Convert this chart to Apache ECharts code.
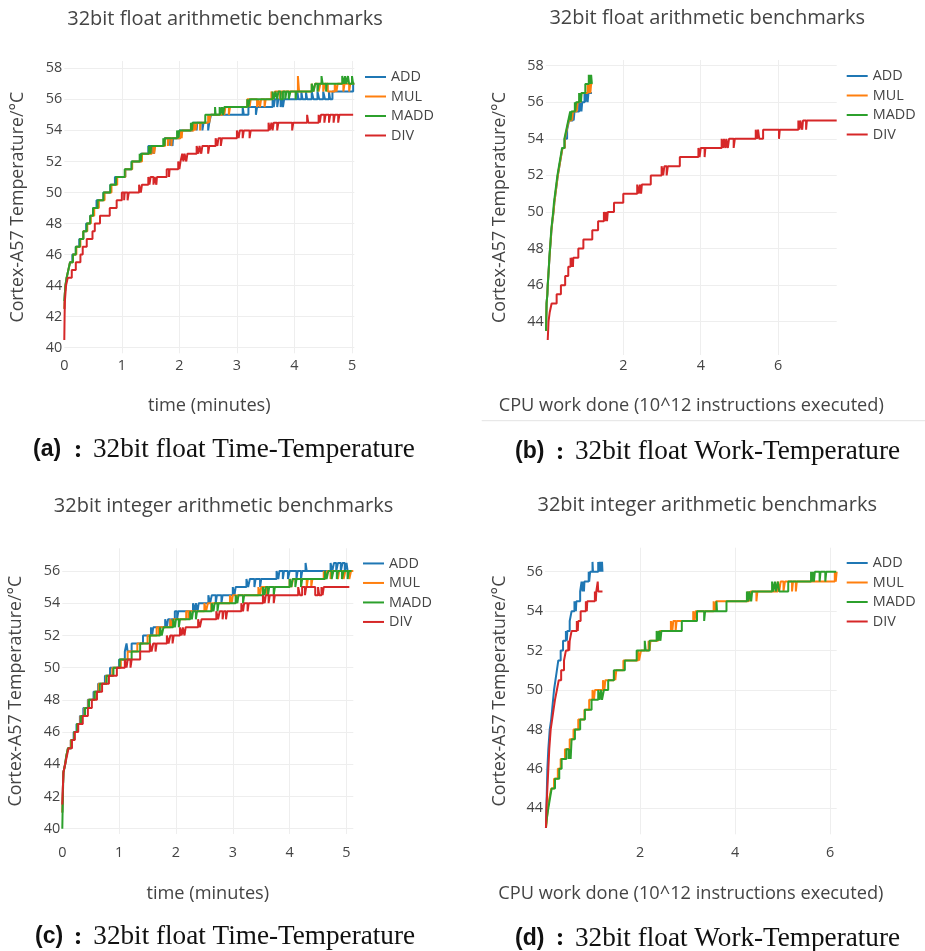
<!DOCTYPE html>
<html>
<head>
<meta charset="utf-8">
<script src="https://cdn.jsdelivr.net/npm/echarts@6/dist/echarts.min.js"></script>
<style>
html,body{margin:0;padding:0;background:#fff;}
#chart{width:925px;height:951px;}
</style>
</head>
<body>
<div id="chart"></div>
<script>
// ---------- data ----------
const seriesNames = ['ADD', 'MUL', 'MADD', 'DIV'];
const seriesColors = ['#1f77b4', '#ff7f0e', '#2ca02c', '#d62728'];

const panelTitles = ['32bit float arithmetic benchmarks', '32bit float arithmetic benchmarks',
                     '32bit integer arithmetic benchmarks', '32bit integer arithmetic benchmarks'];
const xTitles = ['time (minutes)', 'CPU work done (10^12 instructions executed)',
                 'time (minutes)', 'CPU work done (10^12 instructions executed)'];
const yTitle = 'Cortex-A57 Temperature/°C';
const captionTags = ['(a)', '(b)', '(c)', '(d)'];
const captionTexts = ['32bit float Time-Temperature', '32bit float Work-Temperature',
                      '32bit float Time-Temperature', '32bit float Work-Temperature'];

// (a) 32bit float, time (minutes) vs temperature
const floatTimeADD = [[0,42.5],[0.01,43.5],[0.02,44],[0.04,44.5],[0.07,45],[0.1,45.5],[0.14,46],[0.2,46.5],[0.26,47],[0.33,47.5],[0.38,48],[0.45,48.5],[0.5,49],[0.56,49.5],[0.68,50],[0.8,50.5],[0.88,51],[1.06,51.5],[1.17,52],[1.33,52.5],
 [1.46,53],[1.52,52.5],[1.53,53],[1.56,52.5],[1.57,53],[1.74,53.5],[1.84,53],[1.85,53.5],[1.88,53],[1.89,53.5],[2.0,54],[2.23,54.5],[2.3,54],[2.31,54.5],[2.4,54],[2.42,54.5],[2.5,54],[2.52,54.5],
 [2.55,55],[3.1,55.5],[3.12,55],[3.2,55.5],[3.33,55],[3.35,55.5],[3.62,56],[3.64,55.5],[3.66,56],[3.7,55.5],[3.72,56],[3.76,55.5],[3.78,56],[3.8,55.5],[3.82,56],[4.05,56.5],[4.07,56],[4.12,56.5],[4.14,56],[4.2,56.5],[4.22,56],[4.3,56.5],[4.33,56],[4.4,56.5],[4.43,56],[4.5,56.5],[4.53,56],[4.6,56.5],[4.62,56],[4.66,56.5],[5.02,57],[5.04,57]];
const floatTimeMUL = [[0,42.5],[0.01,43.5],[0.02,44],[0.04,44.5],[0.07,45],[0.1,45.5],[0.15,46],[0.21,46.5],[0.28,47],[0.33,47.5],[0.4,48],[0.46,48.5],[0.52,49],[0.6,49.5],[0.7,50],[0.82,50.5],[0.92,51],[1.06,51.5],[1.18,52],[1.35,52.5],[1.52,53],[1.56,52.5],[1.58,53],[1.75,53.5],[1.8,53],[1.82,53.5],[1.86,53],[1.87,53.5],[2.02,54],[2.04,53.5],[2.05,54],[2.25,54.5],[2.28,54],[2.3,54.5],[2.36,54],[2.37,54.5],[2.5,55],[2.52,54.5],[2.54,55],[2.75,55.5],[2.78,55],[2.8,55.5],[2.86,55],[2.88,55.5],[3.18,56],[3.22,55.5],[3.24,56],[3.35,55.5],[3.37,56],[3.4,55.5],[3.42,56],[3.48,55.5],[3.5,56],
 [3.6,56.5],[3.63,56],[3.66,56.5],[3.75,56],[3.77,56.5],[4.06,57.5],[4.08,56.5],[4.3,57],[4.33,56.5],[4.36,57],[4.42,56.5],[4.45,57],[4.5,56.5],[4.53,57],[4.58,56.5],[4.7,57],[4.73,56.5],[4.75,57],[4.85,56.5],[4.87,57],[4.95,56.5],[4.97,57],[5.04,57]];
const floatTimeMADD = [[0,43],[0.01,43.5],[0.02,44],[0.04,44.5],[0.07,45],[0.1,45.5],[0.15,46],[0.2,46.5],[0.27,47],[0.33,47.5],[0.39,48],[0.45,48.5],[0.5,49],[0.58,49.5],[0.68,50],[0.8,50.5],[0.9,51],[1.05,51.5],[1.17,52],[1.31,52.5],[1.33,52],[1.34,52.5],
 [1.47,53],[1.5,52.5],[1.51,53],[1.72,53.5],[1.74,53],[1.75,53.5],[1.96,54],[1.98,53.5],[2.0,54],[2.2,54.5],[2.22,54],[2.23,54.5],[2.45,55],[2.62,55.5],[2.63,55],[2.7,55.5],[2.71,55],[2.74,55.5],[2.76,55],[2.78,55.5],
 [3.18,56],[3.2,55.5],[3.22,56],[3.62,56.5],[3.64,56],[3.67,56.5],[3.7,56],[3.72,56.5],[3.76,56],[3.8,56.5],[3.84,56],[3.86,56.5],[3.9,56],[3.93,56.5],[4.02,56],[4.03,56.5],
 [4.3,57],[4.33,56.5],[4.36,57],[4.4,56.5],[4.42,57],[4.47,57.5],[4.49,57],[4.55,56.5],[4.56,57],[4.83,57.5],[4.86,57],[4.88,57.5],[4.9,57],[4.93,57.5],[4.95,57],[5.0,57.5],[5.02,57],[5.04,57]];
const floatTimeDIV = [[0,40.5],[0.005,42],[0.01,43],[0.03,44],[0.06,44.5],[0.13,45],[0.2,45.5],[0.28,46],[0.32,46.5],[0.39,47],[0.49,47.5],[0.53,48],[0.62,48.5],[0.79,49],[0.91,49.5],[1.0,50],[1.04,49.5],[1.05,50],[1.1,49.5],[1.12,50],
 [1.3,50.5],[1.33,50],[1.35,50.5],[1.46,51],[1.48,50.5],[1.5,51],[1.55,50.5],[1.57,51],[1.6,50.5],[1.61,51],[1.78,51.5],[1.82,51],[1.83,51.5],
 [1.98,52],[2.0,51.5],[2.02,52],[2.05,52.5],[2.07,52],[2.09,52.5],[2.12,52],[2.14,52.5],[2.3,53],[2.33,52.5],[2.35,53],[2.38,52.5],[2.4,53],[2.5,52.5],[2.52,53],
 [2.63,53.5],[2.66,53],[2.68,53.5],[2.72,53],[2.74,53.5],[3.0,54],[3.03,53.5],[3.05,54],[3.1,53.5],[3.12,54],[3.22,53.5],[3.24,54],[3.55,54.5],[3.57,54],[3.6,54.5],[3.62,54],[3.64,54.5],[3.7,54],[3.72,54.5],[3.96,54],[3.98,54.5],
 [4.22,55],[4.24,54.5],[4.42,55],[4.44,54.5],[4.46,55],[4.52,54.5],[4.54,55],[4.6,54.5],[4.62,55],[4.68,54.5],[4.7,55],[4.76,54.5],[4.78,55],[5.02,55]];

// (b) 32bit float, CPU work (10^12 instr.) vs temperature
const floatWorkADD = [[0.005,43.5],[0.01,44],[0.02,45],[0.04,45.5],[0.05,46],[0.065,46.5],[0.08,47],[0.095,47.5],[0.11,48],[0.13,48.5],[0.145,49],[0.17,49.5],[0.2,50],[0.22,50.5],[0.25,51],[0.28,51.5],[0.31,52],[0.35,52.5],[0.39,53],[0.43,53.5],[0.49,54],[0.55,54.5],[0.6,55],[0.7,55.5],[0.72,55],[0.74,55.5],[0.86,56],[0.88,55.5],[0.9,56],[0.92,55.5],[0.94,56],[1.0,56.5],[1.02,56],[1.05,56.5],[1.08,56],[1.1,56.5],[1.19,56.5]];
const floatWorkMUL = [[0.005,43.5],[0.01,44],[0.02,45],[0.04,45.5],[0.05,46],[0.065,46.5],[0.08,47],[0.095,47.5],[0.11,48],[0.13,48.5],[0.145,49],[0.17,49.5],[0.2,50],[0.22,50.5],[0.25,51],[0.28,51.5],[0.31,52],[0.35,52.5],[0.39,53],[0.43,53.5],[0.49,54],[0.54,54.5],[0.59,55],[0.66,55.5],[0.68,55],[0.7,55.5],[0.79,56],[0.8,55.5],[0.82,56],[0.88,56.5],[0.9,56],[0.92,56.5],[1.08,57],[1.1,56.5],[1.12,57],[1.15,56.5],[1.17,57],[1.2,57]];
const floatWorkMADD = [[0.005,43.5],[0.01,44],[0.02,45],[0.04,45.5],[0.05,46],[0.065,46.5],[0.08,47],[0.09,47.5],[0.11,48],[0.125,48.5],[0.14,49],[0.165,49.5],[0.19,50],[0.21,50.5],[0.24,51],[0.27,51.5],[0.3,52],[0.34,52.5],[0.38,53],[0.42,53.5],[0.48,54],[0.53,54.5],[0.58,55],[0.63,55.5],[0.64,55],[0.66,55.5],[0.75,56],[0.76,55.5],[0.78,56],[0.86,56.5],[0.87,56],[0.89,56.5],[0.91,56],[0.92,56.5],[1.02,57],[1.11,57.5],[1.12,57],[1.14,57.5],[1.16,57],[1.17,57.5],[1.19,57]];
const floatWorkDIV = [[0.05,43],[0.07,44],[0.1,44.5],[0.15,45],[0.28,45.5],[0.39,46],[0.5,46.5],[0.58,47],[0.64,47.5],[0.66,47],[0.68,47.5],[0.7,47],[0.71,47.5],[0.84,48],[0.97,48.5],[1.2,49],[1.35,49.5],[1.5,50],[1.53,49.5],[1.55,50],[1.58,49.5],[1.6,50],[1.76,50.5],[2.0,51],[2.36,51.5],[2.4,51],[2.43,51.5],[2.46,51],[2.48,51.5],[2.71,52],[2.99,52.5],[3.03,52],[3.06,52.5],[3.12,52],[3.15,52.5],[3.46,53],[3.94,53.5],[3.97,53],[4.0,53.5],[4.1,53],[4.12,53.5],[4.54,54],[4.58,53.5],[4.6,54],[4.64,53.5],[4.66,54],[4.7,53.5],[4.73,54],[4.85,53.5],[4.88,54],[5.42,54.5],[5.45,54],[5.48,54.5],[5.51,54],[5.61,54.5],[6.02,54],[6.04,54.5],[6.52,55],[6.55,54.5],[6.57,55],[6.62,54.5],[6.64,55],[6.72,54.5],[6.74,55],[7.51,55]];

// (c) 32bit integer, time (minutes) vs temperature
const intTimeADD = [[0,41],[0.01,42.5],[0.02,43.5],[0.05,44],[0.07,44.5],[0.1,45],[0.15,45.5],[0.2,46],[0.25,46.5],[0.31,47],[0.37,47.5],[0.45,48],[0.55,48.5],[0.63,49],[0.75,49.5],[0.84,50],[1.0,50.5],[1.1,51],[1.13,51.5],[1.15,51],[1.22,51.5],[1.42,52],[1.56,52.5],[1.58,52],[1.6,52.5],[1.81,53],[1.84,52.5],[1.86,53],[1.9,52.5],[1.92,53],[1.98,53.5],[2.02,53],[2.04,53.5],[2.3,54],[2.33,53.5],[2.35,54],[2.38,53.5],[2.4,54],[2.57,54.5],[2.6,54],[2.63,54.5],[2.7,54],[2.72,54.5],[2.8,54],[2.82,54.5],[3.0,55],[3.03,54.5],[3.05,55],[3.24,55.5],[3.27,55],[3.3,55.5],[3.38,55],[3.4,55.5],[3.48,55],[3.5,55.5],[3.77,56],[3.8,55.5],[3.82,56],[3.88,55.5],[3.9,56],[3.97,55.5],[4.0,56],[4.12,55.5],[4.14,56],[4.2,55.5],[4.22,56],[4.28,56.5],[4.3,56],[4.72,56.5],[4.75,56],[4.78,56.5],[4.82,56],[4.85,56.5],[4.9,56],[4.93,56.5],[4.97,56],[5.0,56.5],[5.02,56],[5.05,56]];
const intTimeMUL = [[0,41],[0.01,42.5],[0.02,43.5],[0.05,44],[0.07,44.5],[0.1,45],[0.15,45.5],[0.21,46],[0.26,46.5],[0.32,47],[0.39,47.5],[0.46,48],[0.57,48.5],[0.64,49],[0.77,49.5],[0.88,50],[1.03,50.5],[1.15,51],[1.32,51.5],[1.5,52],[1.66,52.5],[1.7,52],[1.72,52.5],[1.9,53],[1.93,52.5],[1.95,53],[2.18,53.5],[2.22,53],[2.24,53.5],[2.5,54],[2.53,53.5],[2.56,54],[2.62,53.5],[2.64,54],[2.95,54.5],[2.98,54],[3.0,54.5],[3.06,54],[3.08,54.5],[3.45,55],[3.48,54.5],[3.5,55],[3.6,54.5],[3.62,55],[4.0,55.5],[4.03,55],[4.06,55.5],[4.3,55],[4.32,55.5],[4.38,55],[4.4,55.5],[4.6,56],[4.63,55.5],[4.66,56],[4.72,55.5],[4.75,56],[4.85,55.5],[4.87,56],[4.95,55.5],[4.98,56],[5.05,55.5],[5.08,56],[5.12,56]];
const intTimeMADD = [[0,40],[0.01,42],[0.02,43.5],[0.05,44],[0.07,44.5],[0.1,45],[0.16,45.5],[0.21,46],[0.26,46.5],[0.33,47],[0.4,47.5],[0.47,48],[0.57,48.5],[0.66,49],[0.78,49.5],[0.9,50],[1.01,50.5],[1.22,51],[1.37,51.5],[1.54,52],[1.72,52.5],[1.75,52],[1.78,52.5],[1.95,53],[1.98,52.5],[2.0,53],[2.05,52.5],[2.07,53],[2.25,53.5],[2.28,53],[2.3,53.5],[2.35,53],[2.37,53.5],[2.63,54],[2.66,53.5],[2.68,54],[2.73,53.5],[2.75,54],[3.05,54.5],[3.08,54],[3.1,54.5],[3.18,54],[3.2,54.5],[3.53,55],[3.56,54.5],[3.58,55],[3.62,54.5],[3.64,55],[3.72,54.5],[3.74,55],[4.0,55.5],[4.03,55],[4.05,55.5],[4.1,55],[4.12,55.5],[4.2,55],[4.22,55.5],[4.62,56],[4.65,55.5],[4.68,56],[4.74,55.5],[4.77,56],[4.83,55.5],[4.85,56],[4.92,55.5],[4.95,56],[5.02,55.5],[5.04,56],[5.09,56]];
const intTimeDIV = [[0,41.5],[0.01,42.5],[0.02,43.5],[0.05,44],[0.08,44.5],[0.11,45],[0.17,45.5],[0.22,46],[0.28,46.5],[0.36,47],[0.45,47.5],[0.52,48],[0.61,48.5],[0.7,49],[0.82,49.5],[0.96,50],[1.1,50.5],[1.13,50],[1.15,50.5],[1.2,50],[1.22,50.5],[1.37,51],[1.54,51.5],[1.57,51],[1.6,51.5],[1.64,51],[1.66,51.5],[1.84,52],[1.87,51.5],[1.9,52],[1.94,51.5],[1.96,52],[2.07,52.5],[2.1,52],[2.12,52.5],[2.15,52],[2.17,52.5],[2.39,53],[2.42,52.5],[2.45,53],[2.71,53.5],[2.74,53],[2.77,53.5],[2.82,53],[2.84,53.5],[2.88,53],[2.9,53.5],[3.15,54],[3.18,53.5],[3.2,54],[3.26,53.5],[3.28,54],[3.53,54.5],[3.56,54],[3.58,54.5],[3.63,54],[3.65,54.5],[3.72,54],[3.74,54.5],[4.15,55],[4.18,54.5],[4.22,55],[4.27,54.5],[4.29,55],[4.45,54.5],[4.5,55],[4.52,54.5],[4.56,55],[4.58,54.5],[4.6,55],[5.05,55]];

// (d) 32bit integer, CPU work (10^12 instr.) vs temperature
const intWorkADD = [[0.02,43],[0.03,44],[0.04,45],[0.05,46],[0.07,47],[0.1,48],[0.13,48.5],[0.15,49],[0.17,49.5],[0.19,50],[0.22,50.5],[0.25,51],[0.28,51.5],[0.33,52],[0.38,52.5],[0.44,53],[0.46,52.5],[0.47,53],[0.52,53.5],[0.56,54],[0.62,54.5],[0.65,54],[0.66,54.5],[0.74,55],[0.77,55.5],[0.79,55],[0.8,55.5],[0.82,55],[0.83,55.5],[0.92,56],[0.93,55.5],[0.95,56],[1.0,56.5],[1.01,56],[1.12,56.5],[1.13,56],[1.15,56.5],[1.16,56],[1.18,56.5],[1.19,56],[1.2,56.5],[1.21,56]];
const intWorkMUL = [[0.02,43],[0.04,43.5],[0.06,44],[0.09,44.5],[0.13,45],[0.19,45.5],[0.27,46],[0.33,46.5],[0.42,47],[0.52,47.5],[0.6,48],[0.7,48.5],[0.83,49],[0.93,49.5],[1.0,50],[1.03,49.5],[1.05,50],[1.22,50.5],[1.25,50],[1.27,50.5],[1.45,51],[1.48,50.5],[1.5,51],[1.65,51.5],[1.96,52],[1.98,51.5],[2.02,52],[2.18,52.5],[2.2,52],[2.22,52.5],[2.38,53],[2.4,52.5],[2.42,53],[2.65,53.5],[2.68,53],[2.7,53.5],[2.75,53],[2.77,53.5],[3.12,54],[3.15,53.5],[3.17,54],[3.55,54.5],[3.58,54],[3.6,54.5],[4.28,55],[4.3,54.5],[4.33,55],[4.45,54.5],[4.47,55],[4.9,55.5],[4.93,55],[4.96,55.5],[5.02,55],[5.05,55.5],[5.2,55],[5.22,55.5],[5.28,55],[5.3,55.5],[6.1,56],[6.12,55.5],[6.14,56]];
const intWorkMADD = [[0.02,43],[0.04,43.5],[0.07,44],[0.105,44.5],[0.14,45],[0.21,45.5],[0.3,46],[0.35,46.5],[0.45,47],[0.5,46.5],[0.52,47],[0.54,46.5],[0.56,47.5],[0.63,48],[0.74,48.5],[0.84,49],[0.98,49.5],[1.12,50],[1.15,49.5],[1.18,50],[1.2,49.5],[1.24,50],[1.33,50.5],[1.45,51],[1.68,51.5],[1.93,52],[2.1,52.5],[2.12,52],[2.2,52.5],[2.35,53],[2.38,52.5],[2.4,53],[2.43,52.5],[2.45,53],[2.88,53.5],[3.2,54],[3.35,53.5],[3.37,54],[3.61,54.5],[3.62,54],[3.82,54.5],[4.25,55],[4.28,54.5],[4.3,55],[4.34,54.5],[4.36,55],[4.78,55.5],[4.8,55],[4.84,55.5],[4.86,55],[4.9,55.5],[4.93,55],[5.12,55.5],[5.6,56],[5.62,55.5],[5.64,56],[5.66,55.5],[5.68,56],[5.78,55.5],[5.8,56],[5.9,55.5],[5.92,56],[6.13,56]];
const intWorkDIV = [[0.02,43],[0.03,44],[0.05,45],[0.07,46],[0.09,47],[0.12,48],[0.15,48.5],[0.18,49],[0.21,49.5],[0.25,50],[0.29,50.5],[0.34,51],[0.4,51.5],[0.44,52],[0.49,52.5],[0.51,52],[0.52,52.5],[0.56,53],[0.67,53.5],[0.69,53],[0.7,53.5],[0.75,54],[0.86,54.5],[0.88,54],[0.89,54.5],[1.05,55],[1.07,54.5],[1.08,55],[1.11,55.5],[1.12,55],[1.21,55]];

const panelData = [
  [floatTimeADD, floatTimeMUL, floatTimeMADD, floatTimeDIV],
  [floatWorkADD, floatWorkMUL, floatWorkMADD, floatWorkDIV],
  [intTimeADD, intTimeMUL, intTimeMADD, intTimeDIV],
  [intWorkADD, intWorkMUL, intWorkMADD, intWorkDIV]
];

// axis ranges and tick steps
const xRanges = [[0, 5.04], [0, 7.51], [0, 5.12], [0, 6.14]];
const yRanges = [[39.64, 58.47], [42.18, 58.31], [39.67, 57.41], [42.68, 57.22]];
const xSteps = [1, 2, 1, 2];
const ySteps = [2, 2, 2, 2];
const showXZero = [true, false, true, false];

// ---------- layout (pixels) ----------
const L = {
  grids: [
    {left: 64.3, top: 61, width: 290, height: 292.3},
    {left: 545.8, top: 60, width: 290.9, height: 295},
    {left: 62.3, top: 548.3, width: 291, height: 285.7},
    {left: 545, top: 547.7, width: 291.7, height: 286.6}
  ],
  xLabelMargin: [6, 4, 12, 12],
  xNameGap: [44, 42, 51, 51],
  yNameGap: [37, 37, 37, 36],
  titles: [[225, 19], [707.2, 18.5], [223.5, 506], [707.2, 505]],
  legends: [[365, 67.25], [846.7, 66.25], [363, 553.7], [846.7, 553.25]],
  captions: [
    {tag: 33, colon: 78, text: 93, y: 450},
    {tag: 515, colon: 560, text: 575, y: 452},
    {tag: 35, colon: 78, text: 93.3, y: 937},
    {tag: 515, colon: 560, text: 575, y: 938.5}
  ]
};

const FONT = '"Open Sans", "DejaVu Sans", sans-serif';
const TXT = '#444';

function stepFormatter(step) {
  return function (v) {
    const r = v / step;
    return Math.abs(r - Math.round(r)) < 1e-6 ? String(Math.round(v)) : '';
  };
}

const grid = [], xAxis = [], yAxis = [], series = [], legend = [], graphic = [];

for (let p = 0; p < 4; p++) {
  grid.push(Object.assign({containLabel: false}, L.grids[p]));
  xAxis.push({
    gridIndex: p, type: 'value',
    min: xRanges[p][0], max: xRanges[p][1],
    minInterval: xSteps[p], maxInterval: xSteps[p],
    axisLine: {show: false}, axisTick: {show: false},
    splitLine: {show: true, showMinLine: false, showMaxLine: false, lineStyle: {color: '#eeeeee', width: 1}},
    axisLabel: {
      show: true, margin: L.xLabelMargin[p], color: TXT, fontFamily: FONT, fontSize: 14.4,
      showMinLabel: showXZero[p], showMaxLabel: false,
      formatter: stepFormatter(xSteps[p])
    },
    name: xTitles[p], nameLocation: 'middle', nameGap: L.xNameGap[p],
    nameTextStyle: {color: TXT, fontFamily: FONT, fontSize: 18.2},
    nameMoveOverlap: false
  });
  yAxis.push({
    gridIndex: p, type: 'value',
    min: yRanges[p][0], max: yRanges[p][1],
    minInterval: ySteps[p], maxInterval: ySteps[p],
    axisLine: {show: false}, axisTick: {show: false},
    splitLine: {show: true, showMinLine: false, showMaxLine: false, lineStyle: {color: '#eeeeee', width: 1}},
    axisLabel: {
      show: true, margin: 2, color: TXT, fontFamily: FONT, fontSize: 14.4,
      showMinLabel: false, showMaxLabel: false,
      formatter: stepFormatter(ySteps[p])
    },
    name: yTitle, nameLocation: 'middle', nameGap: L.yNameGap[p],
    nameTextStyle: {color: TXT, fontFamily: FONT, fontSize: 17.8},
    nameMoveOverlap: false
  });
  for (let s = 0; s < 4; s++) {
    series.push({
      name: seriesNames[s], type: 'line',
      xAxisIndex: p, yAxisIndex: p,
      data: panelData[p][s],
      step: 'end', showSymbol: false, symbol: 'none',
      color: seriesColors[s],
      lineStyle: {color: seriesColors[s], width: 2},
      itemStyle: {color: seriesColors[s]},
      emphasis: {disabled: true},
      clip: true, animation: false
    });
  }
  legend.push({
    orient: 'vertical', left: L.legends[p][0], top: L.legends[p][1],
    padding: 0, itemGap: 0, itemWidth: 21, itemHeight: 2, icon: 'rect',
    selectedMode: false,
    data: seriesNames,
    textStyle: {color: TXT, fontFamily: FONT, fontSize: 14.4, lineHeight: 19.5, padding: 0}
  });
  graphic.push({
    type: 'text', x: L.titles[p][0], y: L.titles[p][1],
    style: {text: panelTitles[p], fill: TXT, fontFamily: FONT, fontSize: 20,
            align: 'center', verticalAlign: 'middle'}
  });
  const c = L.captions[p];
  graphic.push({
    type: 'text', x: c.tag, y: c.y,
    style: {text: captionTags[p], fill: '#111', fontFamily: '"Liberation Sans", Arial, sans-serif',
            fontWeight: 'bold', fontSize: 23, align: 'left', verticalAlign: 'middle'}
  });
  graphic.push({
    type: 'text', x: c.colon, y: c.y,
    style: {text: ':', fill: '#111', fontFamily: '"Liberation Serif", serif',
            fontWeight: 'bold', fontSize: 26, align: 'center', verticalAlign: 'middle'}
  });
  graphic.push({
    type: 'text', x: c.text, y: c.y,
    style: {text: captionTexts[p], fill: '#111', fontFamily: '"Liberation Serif", serif',
            fontSize: 27.2, align: 'left', verticalAlign: 'middle'}
  });
}
graphic.push({
  type: 'line', shape: {x1: 481.7, y1: 420.7, x2: 925, y2: 420.7},
  style: {stroke: '#e3e3e3', lineWidth: 1}
});

const chart = echarts.init(document.getElementById('chart'), null, {renderer: 'canvas', width: 925, height: 951});
chart.setOption({
  backgroundColor: '#ffffff',
  animation: false,
  grid: grid, xAxis: xAxis, yAxis: yAxis,
  legend: legend, series: series, graphic: graphic
});
</script>
</body>
</html>
